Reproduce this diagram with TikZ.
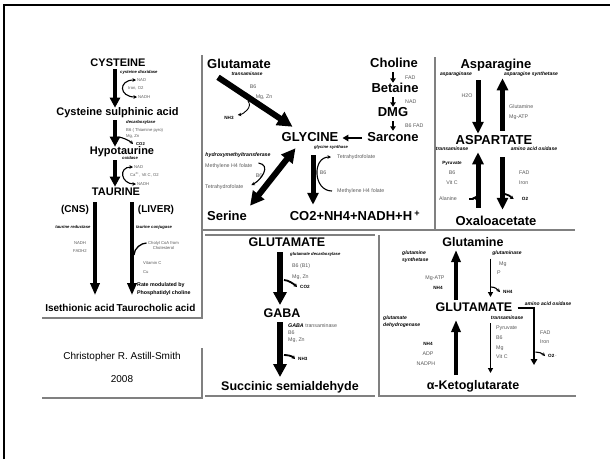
\documentclass[tikz,border=0pt]{standalone}
\usepackage{fontspec}
\setmainfont{Liberation Sans}
\usetikzlibrary{arrows.meta,positioning,calc}
\tikzset{
	molA/.style={font=\bfseries\fontsize{11}{13}\selectfont, inner sep=0pt, text height=8pt, text depth=2.2pt},
	molB/.style={font=\bfseries\fontsize{10}{12}\selectfont, inner sep=0pt, text height=7.3pt, text depth=2pt},
	molG/.style={font=\bfseries\fontsize{13}{15}\selectfont, inner sep=0pt, text height=9.5pt, text depth=2.6pt},
	molC/.style={font=\bfseries\fontsize{12.5}{14}\selectfont, inner sep=0pt, text height=9.1pt, text depth=2.5pt},
	enz/.style={font=\bfseries\itshape\fontsize{5}{7}\selectfont, inner sep=0pt},
	enzS/.style={font=\bfseries\itshape\fontsize{4.2}{6}\selectfont, inner sep=0pt},
	cof/.style={font=\fontsize{5.3}{6.5}\selectfont, text=black!65, inner sep=0pt},
	cofS/.style={font=\fontsize{4.2}{5}\selectfont, text=black!65, inner sep=0pt},
	cofb/.style={font=\bfseries\fontsize{4.6}{6}\selectfont, inner sep=0pt},
	rate/.style={font=\bfseries\fontsize{5.3}{8}\selectfont, inner sep=0pt, align=left},
	sign/.style={font=\fontsize{10}{12}\selectfont, inner sep=0pt},
	frame/.style={draw=black, line width=2.5pt},
	panel/.style={draw=black!50, line width=1.2pt},
	bigarr/.style={line width=4pt, -{Triangle[width=10pt,length=10pt]}},
	longarr/.style={line width=4pt, -{Triangle[width=9pt,length=12pt]}},
	diagarr/.style={line width=6pt, -{Triangle[width=15pt,length=15pt]}},
	dblarr/.style={line width=6pt, {Triangle[width=14pt,length=14pt]}-{Triangle[width=14pt,length=14pt]}},
	midarr/.style={line width=5pt, -{Triangle[width=11pt,length=12pt]}},
	thkarr/.style={line width=4pt, -{Triangle[width=9pt,length=12pt]}},
	smallarr/.style={line width=1.8pt, -{Triangle[width=5.5pt,length=4.5pt]}},
	thinarr/.style={line width=1.2pt, -{Triangle[width=5pt,length=5pt]}},
	bentarr/.style={line width=2.5pt, -{Triangle[width=6.5pt,length=6pt]}},
	curarr/.style={line width=1.1pt, -{Stealth[length=3.5pt,width=3.5pt]}},
	curback/.style={line width=1.1pt, {Stealth[length=3.5pt,width=3.5pt]}-},
	curdbl/.style={line width=1.1pt, {Stealth[length=3.5pt,width=3.5pt]}-{Stealth[length=3.5pt,width=3.5pt]}},
	hookarr/.style={line width=1.8pt, -{Stealth[length=3.5pt,width=4pt]}}
}
\begin{document}
\begin{tikzpicture}[x=1pt,y=-1pt]
	\useasboundingbox (0,0) rectangle (610,459);
	\draw[frame] (4,459) -- (4,5) -- (610,5);
	\draw[panel] (202,55) -- (202,318) -- (42,318);
	\draw[panel] (202,348) -- (202,398) -- (42,398);
	\draw[panel] (202,230) -- (575,230);
	\draw[panel] (435,57) -- (435,230);
	\draw[panel] (205,235) -- (375,235);
	\draw[panel] (205,396) -- (375,396);
	\draw[panel] (379,235) -- (379,396) -- (576,396);

	\coordinate (c1) at (115,0);
	\coordinate (c2) at (95,0);
	\coordinate (c3) at (132,0);
	\node[molA] (cys) at (118,64) {CYSTEINE};
	\node[molA] (csa) at (117.5,113) {Cysteine sulphinic acid};
	\node[molA] (hyp) at (122,152) {Hypotaurine};
	\node[molA] (tau) at (116,193) {TAURINE};
	\node[molB] (cns) at (75,210) {(CNS)};
	\node[molB] (liv) at (156,210) {(LIVER)};
	\node[molB] (ise) at (80,309) {Isethionic acid};
	\node[molB] (tch) at (156,309) {Taurocholic acid};
	\draw[bigarr] (cys.south -| c1) -- (csa.north -| c1);
	\draw[bigarr, shorten <=2pt] (csa.south -| c1) -- (hyp.north -| c1);
	\draw[bigarr, shorten <=3pt, shorten >=1pt] (hyp.south -| c1) -- (tau.north -| c1);
	\draw[longarr, shorten <=4pt, shorten >=9pt] (tau.south -| c2) -- (ise.north -| c2);
	\draw[longarr, shorten <=4pt, shorten >=9pt] (tau.south -| c3) -- (ise.north -| c3);
	\node[enzS, anchor=west] (cdo) at (120,72) {cysteine dioxidase};
	\node[cofS, anchor=west] (nad1) at (137,80) {NAD};
	\node[cofS, anchor=west] (iro1) at (128,88) {Iron, O2};
	\node[cofS, anchor=west] (ndh1) at (138,97) {NADH};
	\draw[curdbl] ([xshift=-1pt]nad1.west) .. controls +(-18,0) and +(-18,0) .. ([xshift=-1pt]ndh1.west);
	\node[enzS, anchor=west] (dcx) at (126,122) {decarboxylase};
	\node[cofS, anchor=west] (thp) at (126,130) {B6 ( Thiamine pyro)};
	\node[cofS, anchor=west] (mgz1) at (126,136) {Mg, Zn};
	\node[cofb, font=\bfseries\fontsize{4.2}{5}\selectfont, anchor=west] (co2a) at (136,144) {CO2};
	\coordinate (co2src1) at (117.5,137);
	\draw[curarr] (co2src1) .. controls +(5,0) and +(-3,-3) .. ([xshift=-3pt]co2a.west);
	\node[enzS, anchor=west] (oxd) at (122,158) {oxidase};
	\node[cofS, anchor=west] (nad2) at (134,167) {NAD};
	\node[cofS, anchor=west] (cav) at (130,175) {Ca\textsuperscript{2+}, Vit C, O2};
	\node[cofS, anchor=west] (ndh2) at (137,184) {NADH};
	\draw[curdbl] ([xshift=-1pt]nad2.west) .. controls +(-15,0) and +(-15,0) .. ([xshift=-1pt]ndh2.west);
	\node[enzS] (tred) at (73,227) {taurine reductase};
	\node[enzS] (tcon) at (154,227) {taurine conjugase};
	\node[cofS] (ndh3) at (80,243) {NADH};
	\node[cofS] (fdh) at (80,251) {FADH2};
	\node[cofS, align=center] (chol) at (163.5,245.5) {Cholyl CoA from\\Cholesterol};
	\coordinate (chsrc) at (134,255);
	\draw[line width=1.3pt] (chsrc) .. controls +(0,-7) and +(-5,0) .. ([shift={(-1.5,-2.5)}]chol.west);
	\node[cofS, anchor=west] (vitc1) at (143,263) {Vitamin C};
	\node[cofS, anchor=west] (cu) at (143,272) {Cu};
	\node[rate, anchor=west] (rmod) at (137,289) {Rate modulated by\\Phosphatidyl choline};
	\node[sign] (auth) at (122,357) {Christopher R. Astill-Smith};
	\node[sign] (year) at (122,379) {2008};

	\coordinate (c4) at (393,0);
	\coordinate (c5) at (313,0);
	\node[molG] (glu2) at (239,65) {Glutamate};
	\node[molG] (gly) at (310,138) {GLYCINE};
	\node[molG] (chl) at (394,64) {Choline};
	\node[molG] (bet) at (395,89) {Betaine};
	\node[molG] (dmg) at (393,113) {DMG};
	\node[molG] (sar) at (393,138) {Sarcone};
	\node[molG] (ser) at (227,217) {Serine};
	\node[molG] (prod) at (355,217) {CO2+NH4+NADH+H\,\textsuperscript{+}};
	\draw[diagarr] ([shift={(11,6)}]glu2.south west) -- ([shift={(11,-5)}]gly.north west);
	\draw[dblarr] ([shift={(3,-5)}]ser.north east) -- ([shift={(14,4)}]gly.south west);
	\draw[midarr, shorten <=11pt, shorten >=6pt] (gly.south -| c5) -- (prod.north -| c5);
	\draw[smallarr, shorten <=2pt] (chl.south -| c4) -- (bet.north -| c4);
	\draw[smallarr, shorten <=2pt] (bet.south -| c4) -- (dmg.north -| c4);
	\draw[smallarr, shorten <=2pt, shorten >=1pt] (dmg.south -| c4) -- (sar.north -| c4);
	\draw[line width=2pt, -{Triangle[width=6.5pt,length=6pt]}, shorten <=5pt, shorten >=4pt] (sar.west) -- (gly.east);
	\node[enz, font=\bfseries\itshape\fontsize{4.8}{6}\selectfont] (tam2) at (247,74) {transaminase};
	\node[cof] (b62) at (253,87) {B6};
	\node[cof] (mgz2) at (264,97) {Mg, Zn};
	\node[cofb] (nh32) at (229,118) {NH3};
	\coordinate (nh3src) at (248,101);
	\draw[curarr, line width=0.9pt] (nh3src) .. controls +(5,6) and +(6,-1) .. ([shift={(4,-3)}]nh32.east);
	\node[cof, anchor=west] (fad1) at (405,78) {FAD};
	\node[cof, anchor=west] (nad3) at (405,102) {NAD};
	\node[cof, anchor=west] (b6fad) at (405,126) {B6 FAD};
	\node[enzS] (gsy) at (331,147) {glycine synthase};
	\node[cof, anchor=west] (thf1) at (337,157) {Tetrahydrofolate};
	\node[cof, anchor=west] (mth1) at (337,191) {Methylene H4 folate};
	\node[cof] (b63) at (323,173) {B6};
	\draw[curback] ([xshift=-6pt]thf1.west) .. controls +(-19,0) and +(-19,0) .. ([xshift=-5pt]mth1.west);
	\node[enz, font=\bfseries\itshape\fontsize{5.2}{6}\selectfont] (hmt) at (238,155) {hydroxymethyltransferase};
	\node[cof, anchor=west] (mth2) at (205,166) {Methylene H4 folate};
	\node[cof] (b64) at (259,176) {B6};
	\node[cof, anchor=west] (thf2) at (205,187) {Tetrahydrofolate};
	\draw[curarr] ([shift={(6,-3)}]mth2.east) .. controls +(13,2) and +(10,-5) .. ([shift={(8,-2)}]thf2.east);

	\coordinate (c6) at (478,0);
	\coordinate (c7) at (502.5,0);
	\node[molG] (asn) at (496,65) {Asparagine};
	\node[molG] (asp) at (494,141) {ASPARTATE};
	\node[molG] (oxa) at (496,222) {Oxaloacetate};
	\draw[midarr, shorten <=9pt, shorten >=1pt] (asn.south -| c6) -- (asp.north -| c6);
	\draw[midarr, shorten <=4pt, shorten >=7pt] (asp.north -| c7) -- (asn.south -| c7);
	\draw[midarr, shorten <=8pt, shorten >=5pt] (oxa.north -| c6) -- (asp.south -| c6);
	\draw[midarr, shorten <=10pt, shorten >=6pt] (asp.south -| c7) -- (oxa.north -| c7);
	\node[enz] (aspase) at (456,74) {asparaginase};
	\node[enz] (asyn) at (531,74) {asparagine synthetase};
	\node[cof] (h2o) at (467,96) {H2O};
	\node[cof, anchor=west] (gln3) at (509,107) {Glutamine};
	\node[cof, anchor=west] (atp3) at (509,117) {Mg-ATP};
	\node[enz] (tam3) at (452,149) {transaminase};
	\node[enz] (aao3) at (534,149) {amino acid oxidase};
	\node[cofb] (pyr3) at (452,163) {Pyruvate};
	\node[cof] (b65) at (452,173) {B6};
	\node[cof] (vitc3) at (452,183) {Vit C};
	\node[cof] (ala) at (448,199) {Alanine};
	\node[cof, anchor=west] (fad3) at (519,173) {FAD};
	\node[cof, anchor=west] (iro3) at (519,183) {Iron};
	\node[cofb] (o2a) at (525,199) {O2};
	\coordinate (alaend) at (476,196);
	\coordinate (o2src) at (505,194);
	\draw[hookarr] ([xshift=12pt]ala.east) .. controls +(4,0) and +(-2,3) .. (alaend);
	\draw[hookarr] (o2src) .. controls +(3,0) and +(-3,-2) .. ([xshift=-8pt]o2a.west);

	\coordinate (c8) at (280,0);
	\node[molC] (glu4) at (287,243) {GLUTAMATE};
	\node[molC] (gaba) at (282,314) {GABA};
	\node[molC] (ssa) at (290,387) {Succinic semialdehyde};
	\draw[line width=6pt, -{Triangle[width=13pt,length=13pt]}, shorten <=3pt, shorten >=3pt] (glu4.south -| c8) -- (gaba.north -| c8);
	\draw[line width=6pt, -{Triangle[width=13pt,length=13pt]}, shorten <=2pt, shorten >=4pt] (gaba.south -| c8) -- (ssa.north -| c8);
	\node[enzS, anchor=west] (gad) at (290,254) {glutamate decarboxylase};
	\node[cof, anchor=west] (b6b1) at (292,266) {B6 (B1)};
	\node[cof, anchor=west] (mgz4) at (292,277) {Mg, Zn};
	\node[cofb, anchor=west] (co2b) at (300,287) {CO2};
	\coordinate (co2src) at (284,280);
	\draw[hookarr] (co2src) .. controls +(4,0) and +(-3,-3) .. ([xshift=-3pt]co2b.west);
	\node[cof, anchor=west] (gabat) at (288,326) {\textcolor{black}{\bfseries\itshape GABA} transaminase};
	\node[cof, anchor=west] (b66) at (288,333) {B6};
	\node[cof, anchor=west] (mgz5) at (288,340) {Mg, Zn};
	\node[cofb, anchor=west] (nh34) at (298,359) {NH3};
	\coordinate (nh3src4) at (284,355);
	\draw[hookarr] (nh3src4) .. controls +(4,0) and +(-3,-3) .. ([xshift=-3pt]nh34.west);

	\coordinate (c9) at (456,0);
	\coordinate (c10) at (490.5,0);
	\node[molC] (gln) at (473,243) {Glutamine};
	\node[molC] (glu5) at (474,308) {GLUTAMATE};
	\node[molC] (akg) at (473,386) {α-Ketoglutarate};
	\draw[thkarr, shorten <=2pt, shorten >=1pt] (glu5.north -| c9) -- (gln.south -| c9);
	\draw[thkarr, shorten <=5pt, shorten >=6pt] (akg.north -| c9) -- (glu5.south -| c9);
	\node[enz, align=left, anchor=west] (gsyn) at (402,256.5) {glutamine\\synthetase};
	\node[cof] (atp5) at (435,278) {Mg-ATP};
	\node[cofb] (nh45) at (438,288) {NH4};
	\node[enz] (glnase) at (507,253) {glutaminase};
	\draw[thinarr, shorten <=3pt, shorten >=5pt] (glnase.south -| c10) -- (glu5.north -| c10);
	\node[cof, anchor=west] (mg5) at (499,264) {Mg};
	\node[cof, anchor=west] (p5) at (497,273) {P};
	\node[cofb, anchor=west] (nh4b) at (503,292) {NH4};
	\coordinate (nh4src) at (491,287);
	\draw[curarr] (nh4src) .. controls +(4,0) and +(-3,-3) .. ([xshift=-3pt]nh4b.west);
	\node[enz, align=left, anchor=west] (gdh) at (383,321.5) {glutamate\\dehydrogenase};
	\node[cofb] (nh46) at (428,344) {NH4};
	\node[cof] (adp) at (428,354) {ADP};
	\node[cof] (nadph) at (426,364) {NADPH};
	\node[enz] (tam5) at (507,318) {transaminase};
	\draw[thinarr, shorten <=3pt, shorten >=7pt] (tam5.south -| c10) -- (akg.north -| c10);
	\node[cof, anchor=west] (pyr5) at (496,328) {Pyruvate};
	\node[cof, anchor=west] (b67) at (496,338) {B6};
	\node[cof, anchor=west] (mg6) at (496,348) {Mg};
	\node[cof, anchor=west] (vitc5) at (496,357) {Vit C};
	\node[enz] (aao5) at (548,304) {amino acid oxidase};
	\coordinate (oxend) at (534,365);
	\draw[bentarr, shorten <=5pt] (glu5.east) -| (oxend);
	\node[cof, anchor=west] (fad5) at (540,333) {FAD};
	\node[cof, anchor=west] (iro5) at (540,342) {Iron};
	\node[cofb, anchor=west] (o25) at (548,356) {O2\,\textcolor{black!50}{\mdseries -}};
	\coordinate (o2src5) at (535.5,352);
	\draw[curarr] (o2src5) .. controls +(3,0) and +(-3,-3) .. ([xshift=-3pt]o25.west);
\end{tikzpicture}
\end{document}
